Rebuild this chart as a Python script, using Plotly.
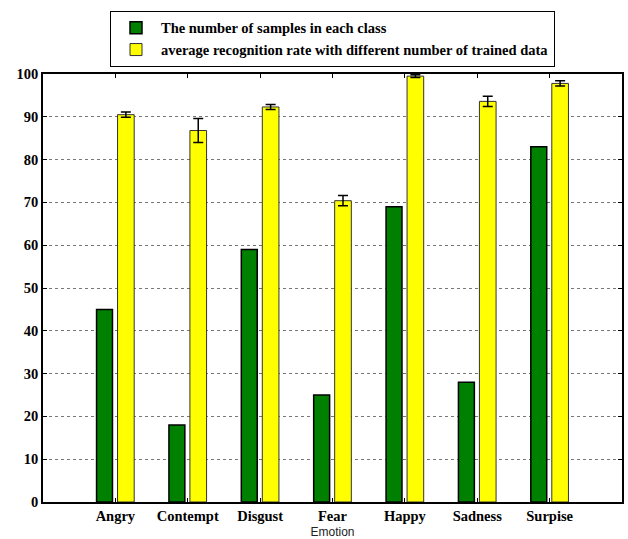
import plotly.graph_objects as go

categories = ["Angry", "Contempt", "Disgust", "Fear", "Happy", "Sadness", "Surpise"]
positions = [1, 2, 3, 4, 5, 6, 7]
samples = [45, 18, 59, 25, 69, 28, 83]
recog_rate = [90.5, 86.8, 92.3, 70.4, 99.5, 93.6, 97.8]
recog_err = [0.6, 2.8, 0.6, 1.2, 0.3, 1.2, 0.6]
y_ticks = [0, 10, 20, 30, 40, 50, 60, 70, 80, 90, 100]

serif = "Liberation Serif"

fig = go.Figure()
fig.add_trace(go.Bar(
    x=positions, y=samples, name="<b>The number of samples in each class</b>",
    offset=-0.26, width=0.22,
    marker=dict(color="#008000", line=dict(color="black", width=1.5)),
))
fig.add_trace(go.Bar(
    x=positions, y=recog_rate,
    name="<b>average recognition rate with different number of trained data</b>",
    offset=0.03, width=0.23,
    marker=dict(color="#ffff00", line=dict(color="#333333", width=1)),
    error_y=dict(type="data", array=recog_err, color="black", thickness=1.5, width=5),
))

fig.update_layout(
    width=628, height=539,
    margin=dict(l=43, r=6, t=74, b=37, autoexpand=False),
    plot_bgcolor="white", paper_bgcolor="white",
    barmode="overlay",
    showlegend=True,
    legend=dict(
        x=0.5, xanchor="center", y=0.98, yanchor="top", yref="container",
        bordercolor="black", borderwidth=1, bgcolor="white",
        font=dict(family=serif, size=14.5, color="black"),
        tracegroupgap=0, itemwidth=40,
    ),
    font=dict(family=serif, color="black"),
)

fig.update_xaxes(
    range=[0, 8], tickvals=positions, ticktext=["<b>%s</b>" % c for c in categories],
    showline=True, linecolor="black", linewidth=1.5, mirror="allticks",
    ticks="inside", ticklen=4, tickcolor="black", showgrid=False, zeroline=False,
    tickfont=dict(family=serif, size=14.5, color="black"),
    title=dict(text="Emotion", font=dict(family="Liberation Sans", size=12, color="#222222"), standoff=5),
)
fig.update_yaxes(
    range=[0, 100], tickvals=y_ticks, ticktext=["<b>%d</b>" % v for v in y_ticks],
    showline=True, linecolor="black", linewidth=1.5, mirror="allticks",
    ticks="inside", ticklen=4, tickcolor="black",
    showgrid=True, gridcolor="#777777", griddash="dot", gridwidth=1, zeroline=False,
    tickfont=dict(family=serif, size=14.5, color="black"),
)

fig.write_html("out.html")
